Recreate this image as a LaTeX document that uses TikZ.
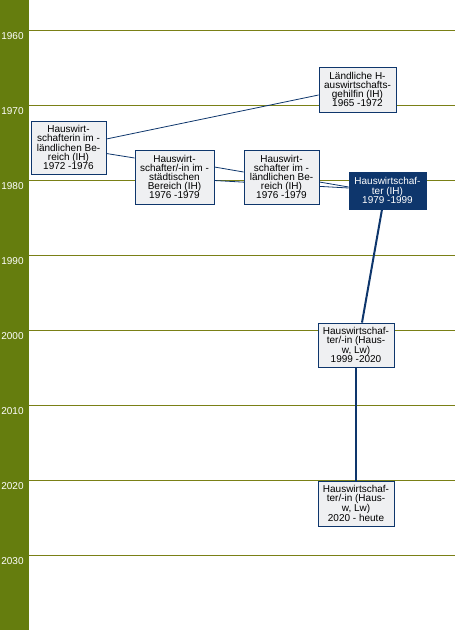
\documentclass[tikz,border=0pt]{standalone}
\usepackage{fontspec}
\setmainfont{Liberation Sans}
\usetikzlibrary{calc,backgrounds}
\definecolor{sideolive}{RGB}{101,125,14}
\definecolor{lineolive}{RGB}{122,128,22}
\definecolor{jobblue}{RGB}{14,54,108}
\definecolor{jobgray}{RGB}{239,240,242}
\tikzset{font=\fontsize{10}{9.2}\selectfont,
  job/.style={draw=jobblue,fill=jobgray,align=center,inner sep=0pt,line width=0.8pt},
  cur/.style={job,fill=jobblue,text=white},
  link/.style={draw=jobblue,line width=0.8pt},
  mainlink/.style={draw=jobblue,line width=2pt}}

\begin{document}
\begin{tikzpicture}[x=1pt,y=-1pt]
\useasboundingbox (0,0) rectangle (455,630);
\begin{scope}[on background layer]
\fill[sideolive] (0,0) rectangle (29,630);
\foreach \yr [count=\i from 0] in {1960,1970,...,2030} {
  \draw[lineolive,line width=0.8pt] (29,30+75*\i) -- (455,30+75*\i);
  \node[text=white] (y\yr) at (12.5,36+75*\i) {\yr};
}
\end{scope}
\node[job,minimum width=75,minimum height=53] (hwin) at (68.5,147.5) {Hauswirt-\\schafterin im -\\ländlichen Be-\\reich (IH)\\1972 -1976};
\node[job,minimum width=77,minimum height=45] (lhg) at (357.5,89.5) {Ländliche H-\\auswirtschafts-\\gehilfin (IH)\\1965 -1972};
\node[job,minimum width=79,minimum height=54] (hwst) at (174.5,177) {Hauswirt-\\schafter/-in im -\\städtischen\\Bereich (IH)\\1976 -1979};
\node[job,minimum width=75,minimum height=54] (hwld) at (281.5,177) {Hauswirt-\\schafter im -\\ländlichen Be-\\reich (IH)\\1976 -1979};
\node[cur,minimum width=77,minimum height=37] (hwih) at (387.5,190.5) {Hauswirtschaf-\\ter (IH)\\1979 -1999};
\node[job,minimum width=76,minimum height=44] (hwlw) at (356,345) {Hauswirtschaf-\\ter/-in (Haus-\\w, Lw)\\1999 -2020};
\node[job,minimum width=76,minimum height=45] (hwheute) at (356,503.5) {Hauswirtschaf-\\ter/-in (Haus-\\w, Lw)\\2020 - heute};
\begin{scope}[on background layer]
\draw[link] ($(hwin.east)+(0,-8.5)$) -- ($(lhg.west)+(0,5.5)$);
\draw[link] ($(hwin.east)+(0,6)$) -- ($(hwst.west)+(0,-19)$);
\draw[link] ($(hwst.east)+(0,-10)$) -- ($(hwld.west)+(0,-5)$);
\draw[link] ($(hwst.east)+(0,3.5)$) -- ($(hwih.west)+(0,-2.5)$);
\draw[link] ($(hwld.east)+(0,5)$) -- ($(hwih.west)+(0,-3.5)$);
\draw[mainlink] ($(hwih.south)+(-5.5,0)$) -- ($(hwlw.north)+(6,0)$);
\draw[mainlink] (hwlw.south) -- (hwheute.north);
\end{scope}
\end{tikzpicture}
\end{document}
